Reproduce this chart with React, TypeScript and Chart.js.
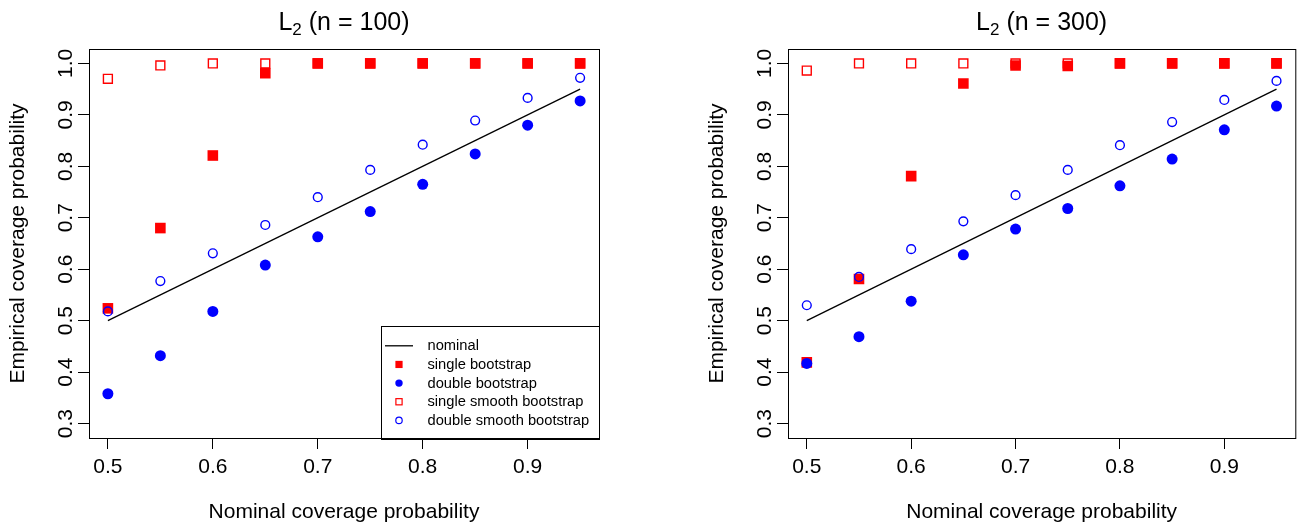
import React, { useEffect, useRef } from "react";
import { Chart, registerables } from "chart.js";

Chart.register(...registerables);

// ---------- data ----------
const nominalLevels = [0.5, 0.55, 0.6, 0.65, 0.7, 0.75, 0.8, 0.85, 0.9, 0.95];
const nominalLine = [0.5, 0.95];
const xTickValues = [0.5, 0.6, 0.7, 0.8, 0.9];
const yTickValues = [0.3, 0.4, 0.5, 0.6, 0.7, 0.8, 0.9, 1.0];
const xLimits = [0.482, 0.968];
const yLimits = [0.272, 1.028];

const seriesLabels = [
  "nominal",
  "single bootstrap",
  "double bootstrap",
  "single smooth bootstrap",
  "double smooth bootstrap",
];

// n = 100
const single100 = [0.524, 0.68, 0.821, 0.981, 1.0, 1.0, 1.0, 1.0, 1.0, 1.0];
const double100 = [0.358, 0.432, 0.518, 0.608, 0.663, 0.712, 0.765, 0.824, 0.88, 0.927];
const singleSmooth100 = [0.97, 0.996, 1.0, 1.0, 1.0, 1.0, 1.0, 1.0, 1.0, 1.0];
const doubleSmooth100 = [0.518, 0.577, 0.631, 0.686, 0.74, 0.793, 0.842, 0.889, 0.933, 0.972];

// n = 300
const single300 = [0.419, 0.581, 0.781, 0.961, 0.996, 0.995, 1.0, 1.0, 1.0, 1.0];
const double300 = [0.417, 0.469, 0.538, 0.628, 0.678, 0.718, 0.762, 0.814, 0.871, 0.917];
const singleSmooth300 = [0.986, 1.0, 1.0, 1.0, 1.0, 1.0, 1.0, 1.0, 1.0, 1.0];
const doubleSmooth300 = [0.53, 0.585, 0.639, 0.693, 0.744, 0.793, 0.841, 0.886, 0.929, 0.966];

const xTitle = "Nominal coverage probability";
const yTitle = "Empirical coverage probability";

// ---------- styles ----------
const FONT = "'Liberation Sans', Arial, Helvetica, sans-serif";
const RED = "#FF0000";
const BLUE = "#0000FF";

const boxPlugin = {
  id: "rbox",
  afterDraw(chart: any) {
    const { ctx, chartArea } = chart;
    const { left, right, top, bottom } = chartArea;
    ctx.save();
    ctx.strokeStyle = "#000";
    ctx.lineWidth = 1;
    ctx.strokeRect(left + 0.5, top + 0.5, right - left, bottom - top);
    ctx.restore();
  },
};

const titlePlugin = {
  id: "rtitle",
  afterDraw(chart: any) {
    const opts = chart.options.plugins.rtitle;
    if (!opts) return;
    const { ctx, chartArea } = chart;
    const cx = (chartArea.left + chartArea.right) / 2;
    const big = `25px ${FONT}`;
    const small = `17px ${FONT}`;
    const rest = ` (n = ${opts.n})`;
    ctx.save();
    ctx.fillStyle = "#000";
    ctx.textBaseline = "alphabetic";
    ctx.textAlign = "left";
    ctx.font = big;
    const wL = ctx.measureText("L").width;
    const wRest = ctx.measureText(rest).width;
    ctx.font = small;
    const w2 = ctx.measureText("2").width;
    const total = wL + w2 + wRest;
    let x = cx - total / 2;
    const baseY = 30;
    ctx.font = big;
    ctx.fillText("L", x, baseY);
    x += wL;
    ctx.font = small;
    ctx.fillText("2", x, baseY + 4.5);
    x += w2;
    ctx.font = big;
    ctx.fillText(rest, x, baseY);
    ctx.restore();
  },
};

const legendPlugin = {
  id: "rlegend",
  afterDraw(chart: any) {
    const opts = chart.options.plugins.rlegend;
    if (!opts || !opts.show) return;
    const { ctx, chartArea } = chart;
    const right = chartArea.right;
    const bottom = chartArea.bottom;
    const w = 218;
    const h = 112.5;
    const left = right - w;
    const top = bottom - h;
    ctx.save();
    ctx.fillStyle = "#fff";
    ctx.fillRect(left, top, w, h);
    ctx.strokeStyle = "#000";
    ctx.lineWidth = 1;
    ctx.strokeRect(Math.round(left) + 0.5, Math.round(top) + 0.5, Math.round(w), Math.round(h));
    const symX = left + 18;
    const textX = left + 46.5;
    const rowY = (i: number) => top + 20.3 + i * 18.65;
    ctx.font = `14.7px ${FONT}`;
    ctx.textBaseline = "middle";
    ctx.textAlign = "left";
    const ds = chart.data.datasets;
    ds.forEach((d: any, i: number) => {
      const y = rowY(i);
      ctx.fillStyle = "#000";
      ctx.fillText(d.label, textX, y + 0.5);
      if (i === 0) {
        ctx.strokeStyle = "#000";
        ctx.lineWidth = 1.3;
        ctx.beginPath();
        ctx.moveTo(left + 4, y);
        ctx.lineTo(left + 32, y);
        ctx.stroke();
      } else if (i === 1) {
        ctx.fillStyle = RED;
        ctx.fillRect(symX - 3.6, y - 3.6, 7.2, 7.2);
      } else if (i === 2) {
        ctx.fillStyle = BLUE;
        ctx.beginPath();
        ctx.arc(symX, y, 3.7, 0, Math.PI * 2);
        ctx.fill();
      } else if (i === 3) {
        ctx.strokeStyle = RED;
        ctx.lineWidth = 1.2;
        ctx.strokeRect(symX - 3.1, y - 3.1, 6.2, 6.2);
      } else if (i === 4) {
        ctx.strokeStyle = BLUE;
        ctx.lineWidth = 1.2;
        ctx.beginPath();
        ctx.arc(symX, y, 3.2, 0, Math.PI * 2);
        ctx.stroke();
      }
    });
    ctx.restore();
  },
};

type PanelProps = {
  left: number;
  width: number;
  padRight: number;
  n: number;
  single: number[];
  double: number[];
  singleSmooth: number[];
  doubleSmooth: number[];
  legend: boolean;
};

const toPoints = (ys: number[]) => nominalLevels.map((x, i) => ({ x, y: ys[i] }));

function Panel(props: PanelProps) {
  const ref = useRef<HTMLCanvasElement>(null);
  const height = 527;
  useEffect(() => {
    if (!ref.current) return;
    const tickFont = { family: FONT, size: 21 };
    const chart = new Chart(ref.current, {
      type: "scatter",
      data: {
        datasets: [
          {
            label: seriesLabels[0],
            data: nominalLine.map((v) => ({ x: v, y: v })),
            showLine: true,
            borderColor: "#000",
            borderWidth: 1.3,
            pointRadius: 0,
            order: 5,
          } as any,
          {
            label: seriesLabels[1],
            data: toPoints(props.single),
            pointStyle: "rect",
            pointRadius: 7.5,
            backgroundColor: RED,
            borderColor: RED,
            borderWidth: 0,
            order: 4,
          },
          {
            label: seriesLabels[2],
            data: toPoints(props.double),
            pointStyle: "circle",
            pointRadius: 5.5,
            backgroundColor: BLUE,
            borderColor: BLUE,
            borderWidth: 0,
            order: 3,
          },
          {
            label: seriesLabels[3],
            data: toPoints(props.singleSmooth),
            pointStyle: "rect",
            pointRadius: 6.3,
            backgroundColor: "rgba(0,0,0,0)",
            borderColor: RED,
            borderWidth: 1.4,
            order: 2,
          },
          {
            label: seriesLabels[4],
            data: toPoints(props.doubleSmooth),
            pointStyle: "circle",
            pointRadius: 4.4,
            backgroundColor: "rgba(0,0,0,0)",
            borderColor: BLUE,
            borderWidth: 1.4,
            order: 1,
          },
        ],
      },
      options: {
        responsive: false,
        animation: false,
        devicePixelRatio: 1,
        layout: { padding: { top: 49, right: props.padRight, bottom: 0, left: 0 } },
        plugins: {
          legend: { display: false },
          tooltip: { enabled: false },
          title: { display: false },
          rtitle: { n: props.n },
          rlegend: { show: props.legend },
        } as any,
        scales: {
          x: {
            type: "linear",
            position: "bottom",
            min: xLimits[0],
            max: xLimits[1],
            afterBuildTicks: (s: any) => {
              s.ticks = xTickValues.map((v) => ({ value: v }));
            },
            afterFit: (s: any) => {
              s.height = 89;
            },
            grid: {
              display: true,
              drawOnChartArea: false,
              drawTicks: true,
              tickLength: 11,
              color: "#000",
              lineWidth: 1,
            },
            border: { display: false },
            ticks: {
              color: "#000",
              font: tickFont,
              padding: 6,
              minRotation: 0,
              maxRotation: 0,
              autoSkip: false,
              callback: (v: any) => Number(v).toFixed(1),
            },
            title: {
              display: true,
              text: xTitle,
              color: "#000",
              font: tickFont,
              padding: { top: 0, bottom: 2 },
            },
          },
          y: {
            type: "linear",
            position: "left",
            min: yLimits[0],
            max: yLimits[1],
            afterBuildTicks: (s: any) => {
              s.ticks = yTickValues.map((v) => ({ value: v }));
            },
            afterFit: (s: any) => {
              s.width = 89;
            },
            grid: {
              display: true,
              drawOnChartArea: false,
              drawTicks: true,
              tickLength: 11,
              color: "#000",
              lineWidth: 1,
            },
            border: { display: false },
            ticks: {
              color: "#000",
              font: tickFont,
              padding: -2.5,
              minRotation: 90,
              maxRotation: 90,
              crossAlign: "center",
              autoSkip: false,
              callback: (v: any) => Number(v).toFixed(1),
            },
            title: {
              display: true,
              text: yTitle,
              color: "#000",
              font: tickFont,
              padding: { top: 5.2, bottom: 0 },
            },
          },
        },
      } as any,
      plugins: [boxPlugin, titlePlugin, legendPlugin],
    });
    return () => chart.destroy();
  }, []);
  return (
    <div style={{ position: "absolute", left: props.left, top: 0, width: props.width, height }}>
      <canvas
        ref={ref}
        width={props.width}
        height={height}
        style={{ display: "block", width: props.width, height }}
      />
    </div>
  );
}

export default function App() {
  return (
    <div
      style={{
        position: "absolute",
        left: 0,
        top: 0,
        width: 1303,
        height: 527,
        background: "#fff",
        overflow: "hidden",
      }}
    >
      <Panel
        left={0}
        width={651}
        padRight={52}
        n={100}
        single={single100}
        double={double100}
        singleSmooth={singleSmooth100}
        doubleSmooth={doubleSmooth100}
        legend={true}
      />
      <Panel
        left={699}
        width={604}
        padRight={6}
        n={300}
        single={single300}
        double={double300}
        singleSmooth={singleSmooth300}
        doubleSmooth={doubleSmooth300}
        legend={false}
      />
    </div>
  );
}
